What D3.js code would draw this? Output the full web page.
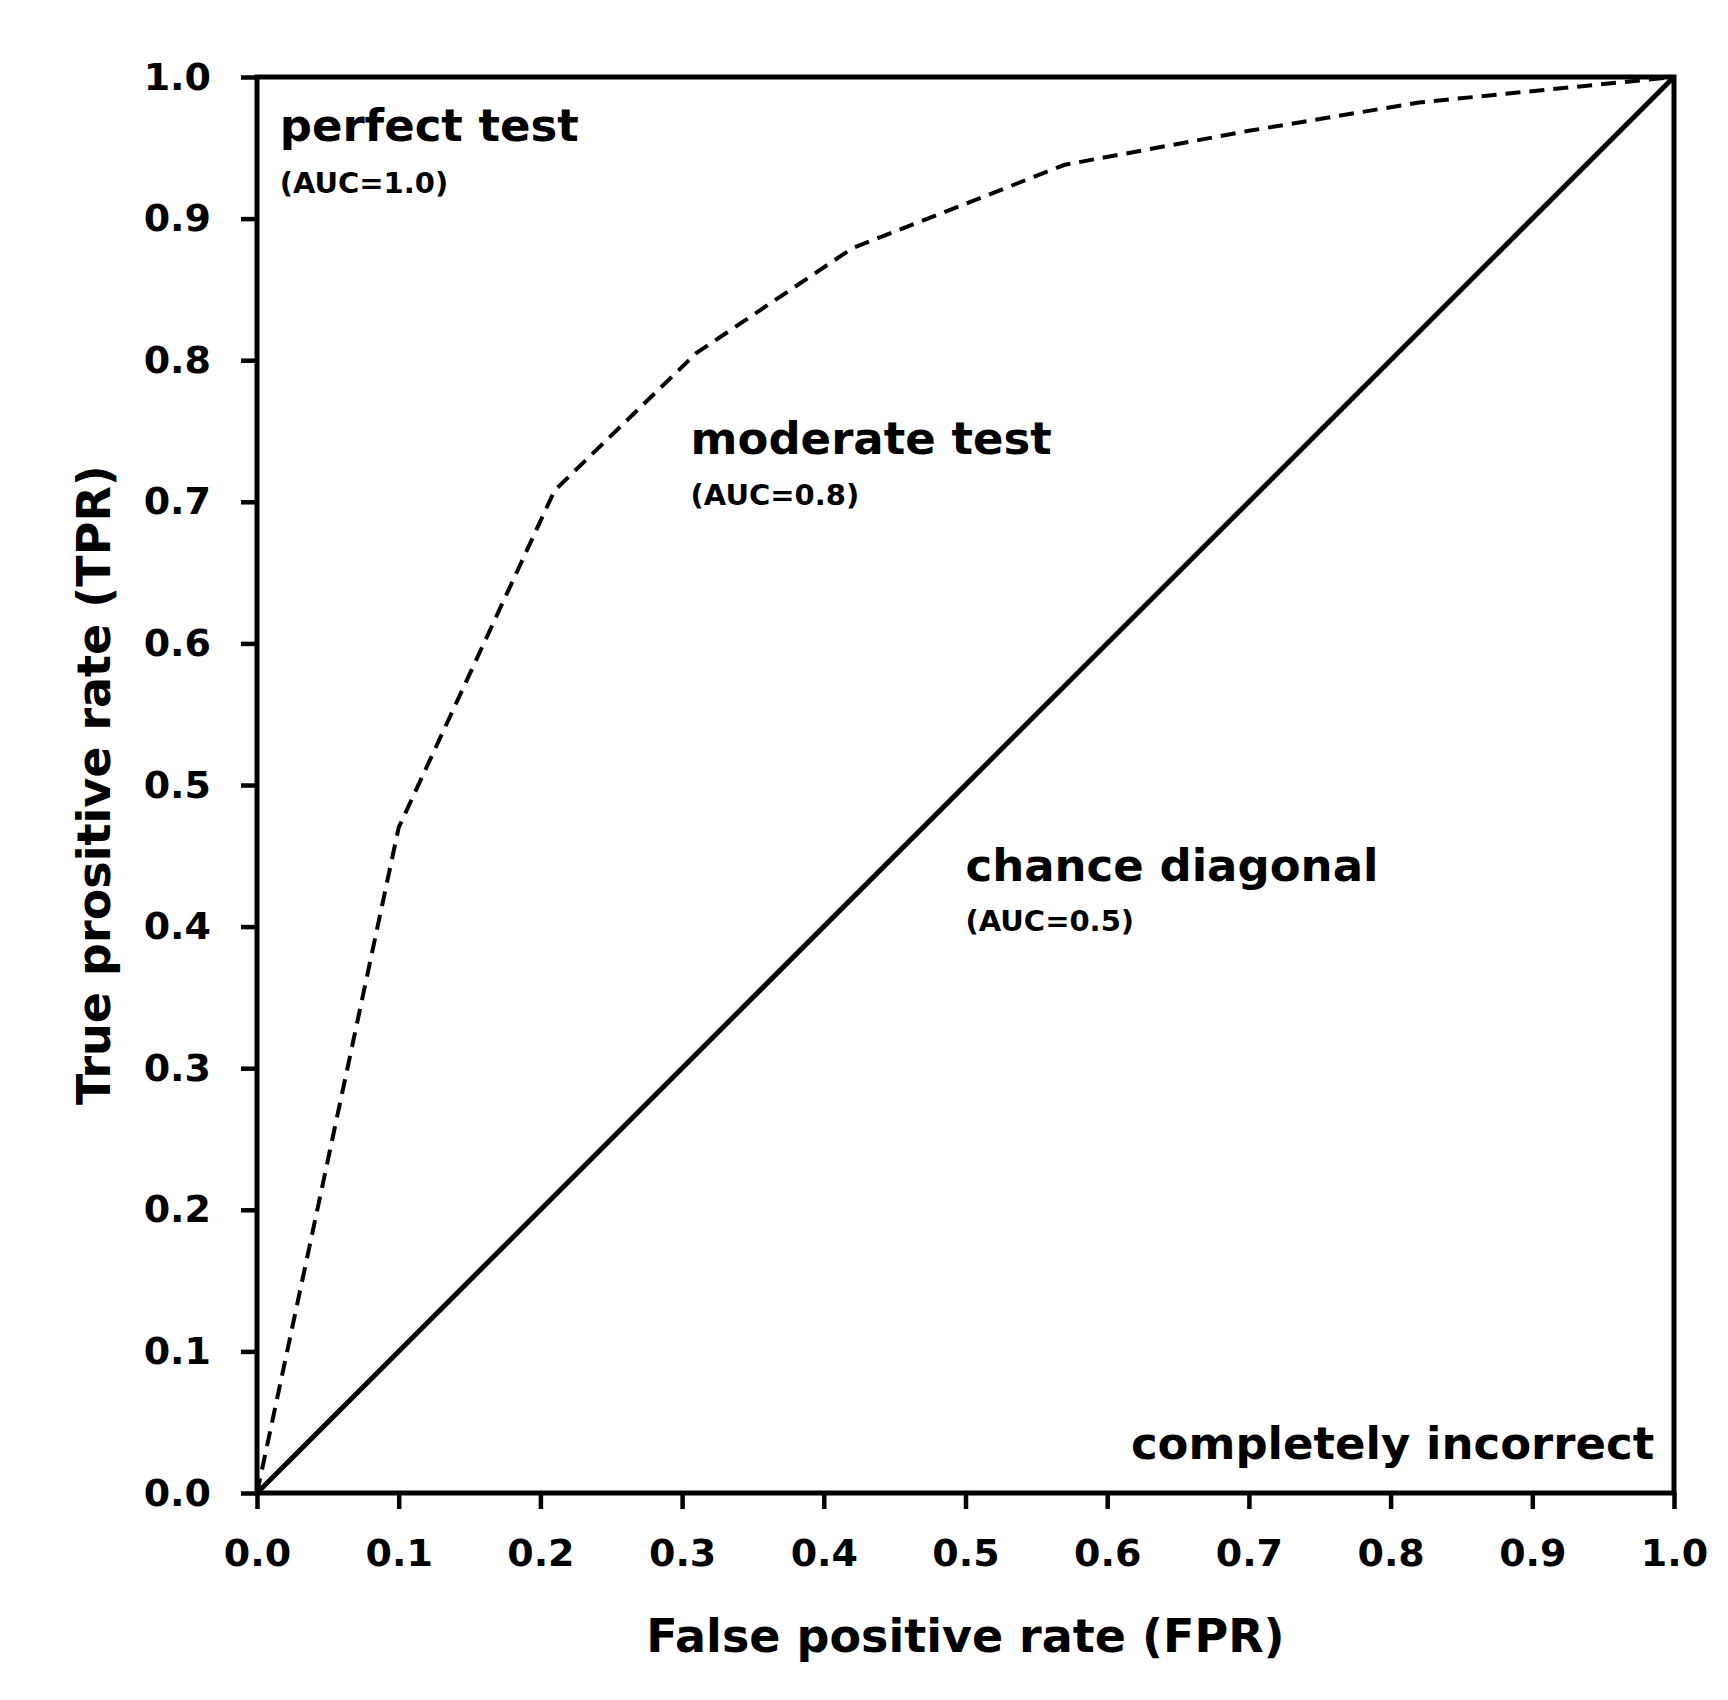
<!DOCTYPE html>
<html><head><meta charset="utf-8">
<script src="https://cdn.jsdelivr.net/npm/d3@7"></script>
<style>body{margin:0;background:#fff}text{font-family:"DejaVu Sans",sans-serif;font-weight:bold;fill:#000}</style>
</head><body><svg id="c" width="1728" height="1700"></svg>
<script>
const ticks=[0,0.1,0.2,0.3,0.4,0.5,0.6,0.7,0.8,0.9,1.0];
const moderateFPR=[0,0.1,0.21,0.31,0.42,0.57,0.7,0.82,1.0];
const moderateTPR=[0,0.47,0.708,0.805,0.879,0.938,0.962,0.982,1.0];
const chanceFPR=[0,1];
const chanceTPR=[0,1];
const labels=[
 {t:"perfect test",fx:0.016,fy:0.955,s:45,a:"start"},
 {t:"(AUC=1.0)",fx:0.016,fy:0.918,s:29,a:"start"},
 {t:"moderate test",fx:0.306,fy:0.734,s:45,a:"start"},
 {t:"(AUC=0.8)",fx:0.306,fy:0.698,s:29,a:"start"},
 {t:"chance diagonal",fx:0.5,fy:0.432,s:45,a:"start"},
 {t:"(AUC=0.5)",fx:0.5,fy:0.397,s:29,a:"start"},
 {t:"completely incorrect",fx:0.986,fy:0.024,s:45,a:"end"}
];
const L=257,R=1674,T=77,B=1493;
const svg=d3.select("#c");
const x=d3.scaleLinear().domain([0,1]).range([L,R]);
const y=d3.scaleLinear().domain([0,1]).range([B,T]);
const fmt=d3.format(".1f");
const xa=svg.append("g").attr("transform",`translate(0,${B})`).call(d3.axisBottom(x).tickValues(ticks).tickFormat(fmt).tickSize(16).tickPadding(30));
const ya=svg.append("g").attr("transform",`translate(${L},0)`).call(d3.axisLeft(y).tickValues(ticks).tickFormat(fmt).tickSize(16).tickPadding(30));
[xa,ya].forEach(g=>{g.select(".domain").remove();g.selectAll("line").attr("stroke","#000").attr("stroke-width",4.5);g.selectAll("text").style("font-size","38px").style("font-family","DejaVu Sans, sans-serif").style("font-weight","bold");});
svg.append("rect").attr("x",L).attr("y",T).attr("width",R-L).attr("height",B-T).attr("fill","none").attr("stroke","#000").attr("stroke-width",5);
const line=d3.line().x(d=>x(d[0])).y(d=>y(d[1]));
svg.append("path").attr("d",line(chanceFPR.map((v,i)=>[v,chanceTPR[i]]))).attr("fill","none").attr("stroke","#000").attr("stroke-width",5);
svg.append("path").attr("d",line(moderateFPR.map((v,i)=>[v,moderateTPR[i]]))).attr("fill","none").attr("stroke","#000").attr("stroke-width",4).attr("stroke-dasharray","15,9");
labels.forEach(l=>svg.append("text").attr("x",x(l.fx)).attr("y",y(l.fy)).attr("text-anchor",l.a).style("font-size",l.s+"px").text(l.t));
svg.append("text").attr("x",(L+R)/2).attr("y",1652).attr("text-anchor","middle").style("font-size","46px").text("False positive rate (FPR)");
svg.append("text").attr("transform",`translate(110,${(T+B)/2}) rotate(-90)`).attr("text-anchor","middle").style("font-size","46px").text("True prositive rate (TPR)");
</script></body></html>
